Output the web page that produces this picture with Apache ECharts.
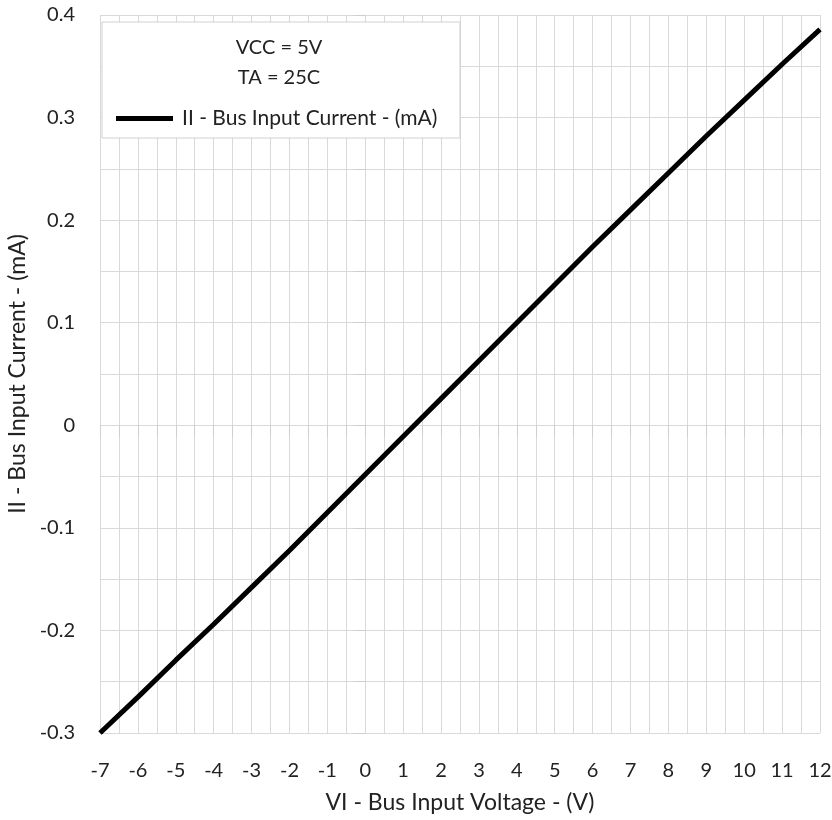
<!DOCTYPE html>
<html>
<head>
<meta charset="utf-8">
<script src="https://cdn.jsdelivr.net/npm/echarts@6/dist/echarts.min.js"></script>
<style>html,body{margin:0;padding:0;background:#fff}#c{width:832px;height:820px}</style>
</head>
<body>
<div id="c"></div>
<script>
const voltages = [-7,-6,-5,-4,-3,-2,-1,0,1,2,3,4,5,6,7,8,9,10,11,12];
const currents = [-0.300,-0.265,-0.229,-0.194,-0.158,-0.122,-0.085,-0.048,-0.011,0.026,0.063,0.100,0.137,0.174,0.210,0.246,0.282,0.317,0.352,0.386];
const seriesName = 'II - Bus Input Current - (mA)';
const xTitle = 'VI - Bus Input Voltage - (V)';
const yTitle = 'II - Bus Input Current - (mA)';
const noteLines = ['VCC = 5V', 'TA = 25C'];

const FONT = 'Lato';
const grid = '#d9d9d9';
const chart = echarts.init(document.getElementById('c'), null, {renderer: 'canvas'});
chart.setOption({
  animation: false,
  grid: {left: 100, right: 12, top: 15, bottom: 87, outerBoundsMode: 'none', containLabel: false},
  xAxis: {
    type: 'value', min: -7, max: 12, interval: 1,
    name: xTitle, nameLocation: 'middle', nameGap: 58,
    nameTextStyle: {fontFamily: FONT, fontSize: 23, color: '#222'},
    axisLine: {show: true, lineStyle: {color: grid}},
    axisTick: {show: true, inside: false, length: 12, lineStyle: {color: '#cfcfcf'}},
    minorTick: {show: true, splitNumber: 2, length: 12, lineStyle: {color: '#cfcfcf'}},
    splitLine: {show: true, lineStyle: {color: grid, width: 1}},
    minorSplitLine: {show: true, lineStyle: {color: grid, width: 1}},
    axisLabel: {fontFamily: FONT, fontSize: 20, color: '#222', margin: 28}
  },
  yAxis: {
    type: 'value', min: -0.3, max: 0.4, interval: 0.1,
    name: yTitle, nameLocation: 'middle', nameGap: 69, nameRotate: 90,
    nameTextStyle: {fontFamily: FONT, fontSize: 23, color: '#222'},
    axisLine: {show: true, lineStyle: {color: grid}},
    axisTick: {show: true, length: 12, lineStyle: {color: '#cfcfcf'}},
    minorTick: {show: true, splitNumber: 2, length: 12, lineStyle: {color: '#cfcfcf'}},
    splitLine: {show: true, lineStyle: {color: grid, width: 1}},
    minorSplitLine: {show: true, lineStyle: {color: grid, width: 1}},
    axisLabel: {fontFamily: FONT, fontSize: 20, color: '#222', margin: 25,
      formatter: v => (Math.abs(v) < 1e-9 ? '0' : (Math.round(v*10)/10).toFixed(1))}
  },
  graphic: [
    {type: 'rect', z: 50, shape: {x: 102, y: 22, width: 358, height: 116},
     style: {fill: '#fff', stroke: '#d0d0d0', lineWidth: 1}},
    {type: 'text', z: 51, style: {x: 279, y: 48, text: noteLines[0], textAlign: 'center', textVerticalAlign: 'middle', font: '20px ' + FONT, fill: '#222'}},
    {type: 'text', z: 51, style: {x: 279, y: 78, text: noteLines[1], textAlign: 'center', textVerticalAlign: 'middle', font: '20px ' + FONT, fill: '#222'}}
  ],
  legend: {
    show: true, z: 60, left: 111, top: 103, itemWidth: 57, itemHeight: 5, itemGap: 10,
    textStyle: {fontFamily: FONT, fontSize: 21, color: '#222', padding: [0, 0, 0, 4]},
    data: [{name: seriesName, icon: 'rect', itemStyle: {color: '#000'}}]
  },
  series: [{
    name: seriesName, type: 'line', showSymbol: false, symbol: 'none',
    data: voltages.map((v, i) => [v, currents[i]]),
    lineStyle: {color: '#000', width: 5}, itemStyle: {color: '#000'}
  }]
});
</script>
</body>
</html>
